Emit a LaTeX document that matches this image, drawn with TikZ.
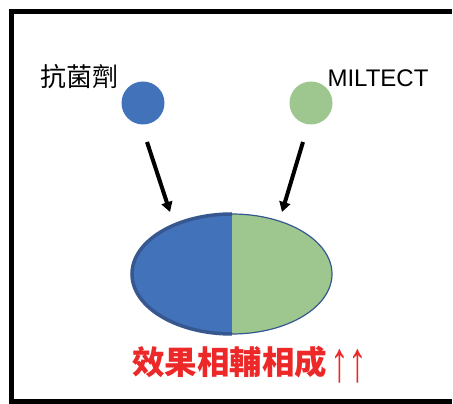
\documentclass[tikz,border=0pt]{standalone}
\usepackage{fontspec}
\setmainfont{Liberation Sans}
\newfontfamily\cjk{Noto Sans CJK TC}
\usetikzlibrary{arrows.meta,shapes.geometric}
\definecolor{cblue}{RGB}{66,114,186}
\definecolor{cgreen}{RGB}{157,199,142}
\definecolor{cedge}{RGB}{55,87,145}
\definecolor{cred}{RGB}{236,40,40}
\tikzset{
  frame/.style={line width=5pt, black},
  dot/.style={circle, minimum size=43pt, inner sep=0pt},
  conn/.style={line width=4pt, -{Triangle[width=11pt,length=10pt]}},
  lbl/.style={inner sep=0pt, text=black}
}
\begin{document}
\begin{tikzpicture}[x=1pt,y=1pt]
\useasboundingbox (0,0) rectangle (453,404);
\draw[frame] (451.5,392) -- (11,392) -- (11,2) -- (451.5,2);
% circles
\node[dot, fill=cblue] (c1) at (143,301) {};
\node[dot, fill=cgreen] (c2) at (311,301) {};
% labels
\node[lbl, font=\cjk\fontsize{26}{26}\selectfont] (l1) at (79,327) {抗菌劑};
\node[lbl, font=\fontsize{24}{24}\selectfont] (l2) at (378,326) {MILTECT};
% ellipse
\node[ellipse, minimum width=200pt, minimum height=120pt, inner sep=0pt] (el) at (232,130) {};
\fill[cblue] (232,190) arc[start angle=90,end angle=270,x radius=100,y radius=60] -- cycle;
\fill[cgreen] (232,190) arc[start angle=90,end angle=-90,x radius=100,y radius=60] -- cycle;
\draw[cedge, line width=1.2pt] (232,190) arc[start angle=90,end angle=-90,x radius=100,y radius=60];
\draw[cedge, line width=3.5pt] (232,190) arc[start angle=90,end angle=270,x radius=100,y radius=60];
% arrows
\coordinate (a1s) at (147,262);
\coordinate (a1e) at (170,192);
\coordinate (a2s) at (303,262);
\coordinate (a2e) at (282,192);
\draw[conn] (a1s) -- (a1e);
\draw[conn] (a2s) -- (a2e);
% result text
\node[inner sep=0pt, anchor=base west, text=cred] (res) at (132,29.5)
  {\cjk\bfseries\fontsize{32.5}{32.5}\selectfont 效果相輔相成\mdseries\normalfont\fontsize{30}{30}\selectfont\hspace{3pt}\raisebox{-7pt}{\scalebox{1.25}[1.9]{↑↑}}};
\end{tikzpicture}
\end{document}
